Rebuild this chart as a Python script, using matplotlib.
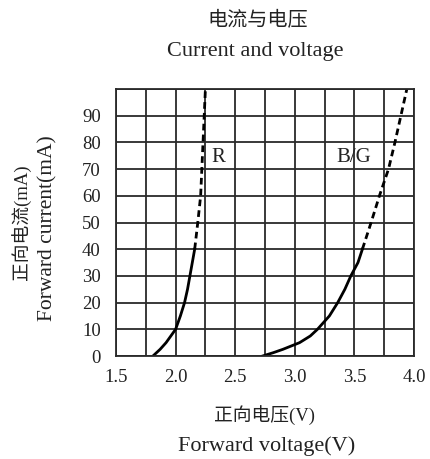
import numpy as np
import matplotlib.pyplot as plt

plt.rcParams['font.family'] = ['Liberation Serif', 'Noto Sans CJK SC', 'DejaVu Sans']

# forward current (mA) vs forward voltage (V)
cur_r = [0, 2.5, 5, 7.5, 10, 15, 20, 25, 30, 35, 40, 50, 60, 70, 80, 90, 100]
volt_r = [1.81, 1.87, 1.92, 1.96, 2.00, 2.04, 2.075, 2.10, 2.12, 2.14, 2.16,
          2.186, 2.21, 2.22, 2.23, 2.24, 2.25]
cur_bg = [0, 1.25, 2.5, 5, 7.5, 10, 15, 20, 25, 30, 35, 40, 50, 60, 70, 80, 90, 100]
volt_bg = [2.73, 2.82, 2.90, 3.04, 3.13, 3.19, 3.29, 3.36, 3.42, 3.47, 3.53, 3.567,
           3.64, 3.71, 3.786, 3.84, 3.89, 3.94]
rated = 40  # solid up to here, dashed above

xtick_labels = ['1.5', '2.0', '2.5', '3.0', '3.5', '4.0']
yticks = [0, 10, 20, 30, 40, 50, 60, 70, 80, 90]

fig = plt.figure(figsize=(4.3, 4.59), dpi=100)
ax = fig.add_axes([0.2698, 0.2244, 0.6930, 0.5817])

ax.set_xlim(1.5, 4.0)
ax.set_ylim(0, 100)
ax.set_xticks(np.arange(1.5, 4.01, 0.25))
ax.set_yticks(np.arange(0, 101, 10))
ax.grid(True, color='#2a2a2a', linewidth=1.3)
ax.tick_params(length=0, labelsize=13.5, colors='#222222')
ax.set_xticklabels([xtick_labels[i // 2] if i % 2 == 0 else '' for i in range(11)])
ax.set_yticklabels([str(v) if v in yticks else '' for v in range(0, 101, 10)])
ax.tick_params(axis='y', pad=11)
ax.tick_params(axis='x', pad=9)
for s in ax.spines.values():
    s.set_color('#2a2a2a')
    s.set_linewidth(1.3)

for c, volts in ((cur_r, volt_r), (cur_bg, volt_bg)):
    c = np.array(c)
    v = np.array(volts)
    solid = c <= rated
    dashed = c >= rated
    ax.plot(v[solid], c[solid], color='black', linewidth=2, solid_joinstyle='round')
    ax.plot(v[dashed], c[dashed], color='black', linewidth=2, linestyle=(0, (2.4, 1.5)))

ax.text(2.30, 74.5, 'R', fontsize=15, va='center', ha='left', color='#222222')
ax.text(3.35, 74.5, 'B/G', fontsize=15, va='center', ha='left', color='#222222')

fig.text(0.600, 0.952, '电流与电压', fontsize=14.5, ha='center', va='center', color='#222222')
fig.text(0.593, 0.887, 'Current and voltage', fontsize=16, ha='center', va='center', color='#222222')
fig.text(0.614, 0.096, '正向电压(V)', fontsize=13.5, ha='center', va='center', color='#222222')
fig.text(0.621, 0.028, 'Forward voltage(V)', fontsize=16, ha='center', va='center', color='#222222')
fig.text(0.049, 0.516, '正向电流(mA)', fontsize=13.5, ha='center', va='center', rotation=90, color='#222222')
fig.text(0.112, 0.503, 'Forward current(mA)', fontsize=15.5, ha='center', va='center', rotation=90, color='#222222')

fig.savefig('out.png', dpi=100)
